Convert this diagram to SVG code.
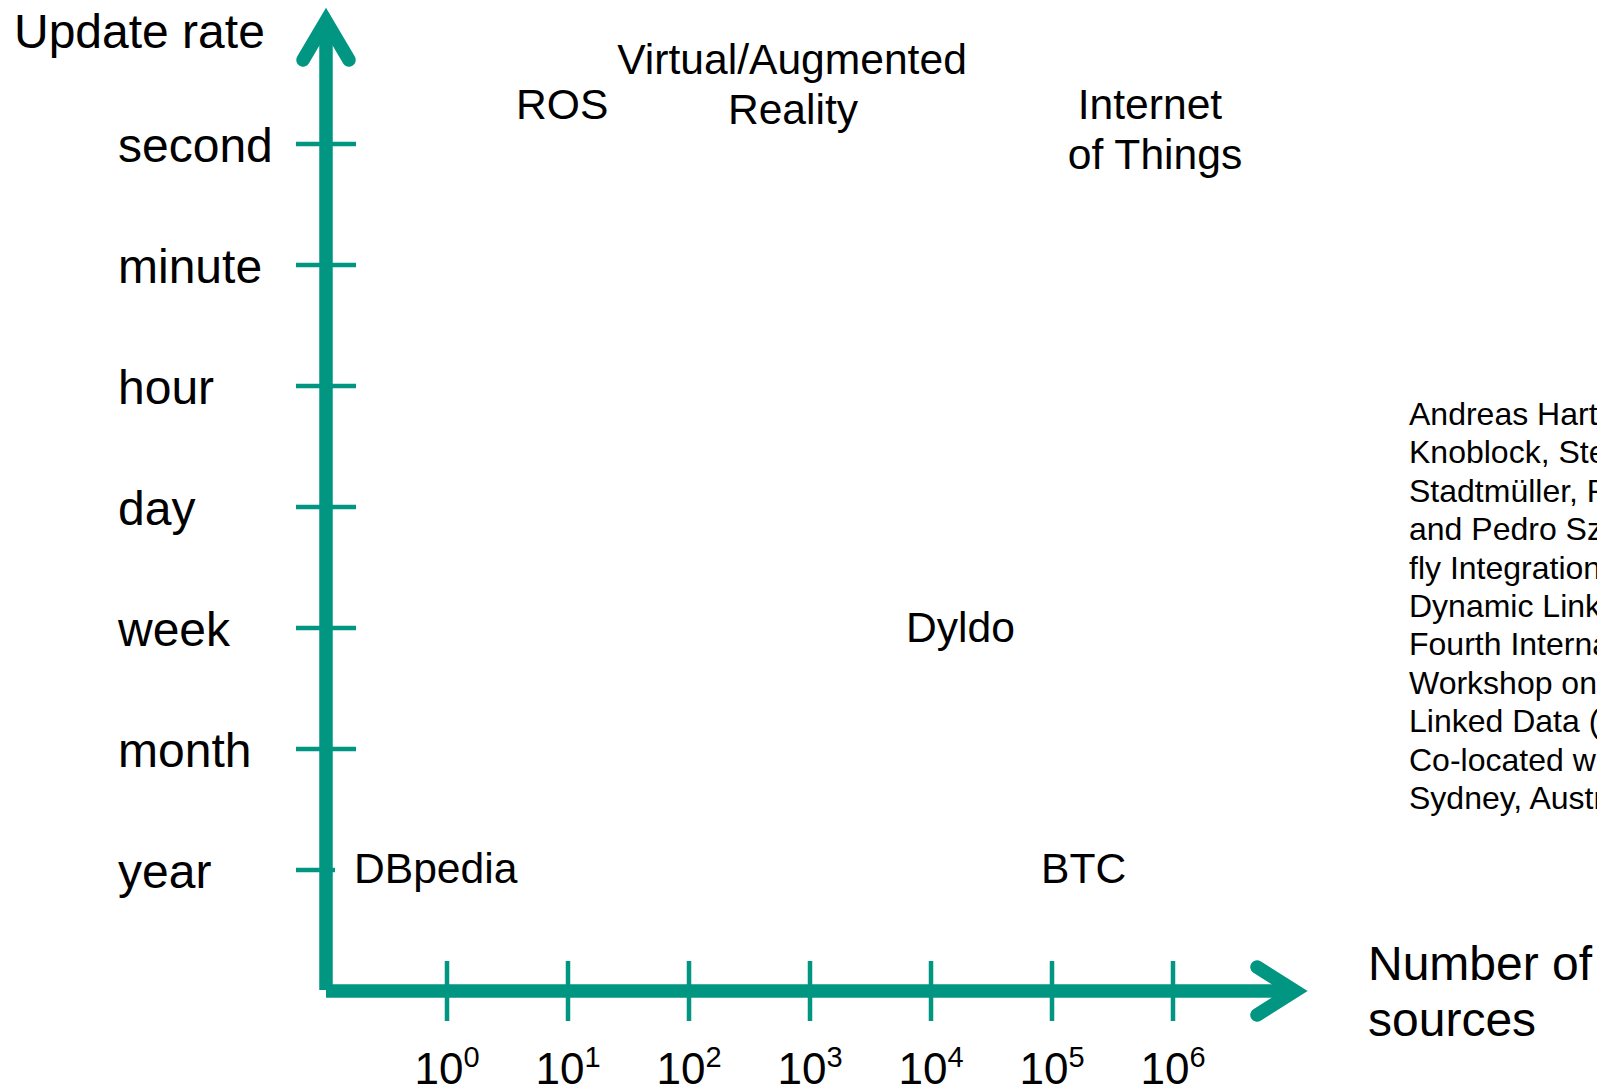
<svg xmlns="http://www.w3.org/2000/svg" width="1597" height="1092" viewBox="0 0 1597 1092">
<style>
.ax{stroke:#009682;stroke-width:13.5;fill:none}
.ah{stroke:#009682;stroke-width:13.5;fill:none;stroke-linecap:round;stroke-linejoin:miter;stroke-miterlimit:10}
.tk{stroke:#009682;stroke-width:4.5;fill:none}
text{font-family:"Liberation Sans",Arial,sans-serif;fill:#000}
.al{font-size:48px}
.dl{font-size:42.6px}
.xl{font-size:44px}
.ct{font-size:32px}
</style>
<rect width="1597" height="1092" fill="#fff"/>
<g id="axes">
<line class="ax" x1="326" y1="990" x2="326" y2="22"/>
<polyline class="ah" points="303,60 326,21 349,60"/>
<line class="ax" x1="326" y1="991" x2="1296" y2="991"/>
<polyline class="ah" points="1257,967 1295,991 1257,1015"/>
<line class="tk" x1="296" y1="144" x2="356" y2="144"/>
<line class="tk" x1="296" y1="265" x2="356" y2="265"/>
<line class="tk" x1="296" y1="386" x2="356" y2="386"/>
<line class="tk" x1="296" y1="507" x2="356" y2="507"/>
<line class="tk" x1="296" y1="628" x2="356" y2="628"/>
<line class="tk" x1="296" y1="749" x2="356" y2="749"/>
<line class="tk" x1="296" y1="870" x2="335" y2="870"/>
<line class="tk" x1="447" y1="961" x2="447" y2="1021"/>
<line class="tk" x1="568" y1="961" x2="568" y2="1021"/>
<line class="tk" x1="689" y1="961" x2="689" y2="1021"/>
<line class="tk" x1="810" y1="961" x2="810" y2="1021"/>
<line class="tk" x1="931" y1="961" x2="931" y2="1021"/>
<line class="tk" x1="1052" y1="961" x2="1052" y2="1021"/>
<line class="tk" x1="1173" y1="961" x2="1173" y2="1021"/>
</g>
<g id="axis-labels">
<text class="al" x="14" y="48">Update rate</text>
<text class="al" x="118" y="162">second</text>
<text class="al" x="118" y="283">minute</text>
<text class="al" x="118" y="404">hour</text>
<text class="al" x="118" y="525">day</text>
<text class="al" x="118" y="646">week</text>
<text class="al" x="118" y="767">month</text>
<text class="al" x="118" y="888">year</text>
<text class="al" x="1368" y="980">Number of</text>
<text class="al" x="1368" y="1036">sources</text>
</g>
<g id="x-tick-labels">
<text class="xl" x="447" y="1084" text-anchor="middle">10<tspan dy="-17" font-size="29">0</tspan></text>
<text class="xl" x="568" y="1084" text-anchor="middle">10<tspan dy="-17" font-size="29">1</tspan></text>
<text class="xl" x="689" y="1084" text-anchor="middle">10<tspan dy="-17" font-size="29">2</tspan></text>
<text class="xl" x="810" y="1084" text-anchor="middle">10<tspan dy="-17" font-size="29">3</tspan></text>
<text class="xl" x="931" y="1084" text-anchor="middle">10<tspan dy="-17" font-size="29">4</tspan></text>
<text class="xl" x="1052" y="1084" text-anchor="middle">10<tspan dy="-17" font-size="29">5</tspan></text>
<text class="xl" x="1173" y="1084" text-anchor="middle">10<tspan dy="-17" font-size="29">6</tspan></text>
</g>
<g id="node-ros"><text class="dl" x="516" y="119">ROS</text></g>
<g id="node-var"><text class="dl" x="792" y="74" text-anchor="middle">Virtual/Augmented</text><text class="dl" x="793" y="124" text-anchor="middle">Reality</text></g>
<g id="node-iot"><text class="dl" x="1150" y="119" text-anchor="middle">Internet</text><text class="dl" x="1155" y="169" text-anchor="middle">of Things</text></g>
<g id="node-dyldo"><text class="dl" x="906" y="642">Dyldo</text></g>
<g id="node-dbpedia"><text class="dl" x="354" y="883">DBpedia</text></g>
<g id="node-btc"><text class="dl" x="1041" y="883">BTC</text></g>
<g id="citation">
<text class="ct" x="1409" y="425">Andreas Hart</text>
<text class="ct" x="1409" y="463.4">Knoblock, Ste</text>
<text class="ct" x="1409" y="501.8">Stadtmüller, R</text>
<text class="ct" x="1409" y="540.2">and Pedro Sz</text>
<text class="ct" x="1409" y="578.6">fly Integration</text>
<text class="ct" x="1409" y="617">Dynamic Link</text>
<text class="ct" x="1409" y="655.4">Fourth Interna</text>
<text class="ct" x="1409" y="693.8">Workshop on</text>
<text class="ct" x="1409" y="732.2">Linked Data (</text>
<text class="ct" x="1409" y="770.6">Co-located wi</text>
<text class="ct" x="1409" y="809">Sydney, Austr</text>
</g>
</svg>
